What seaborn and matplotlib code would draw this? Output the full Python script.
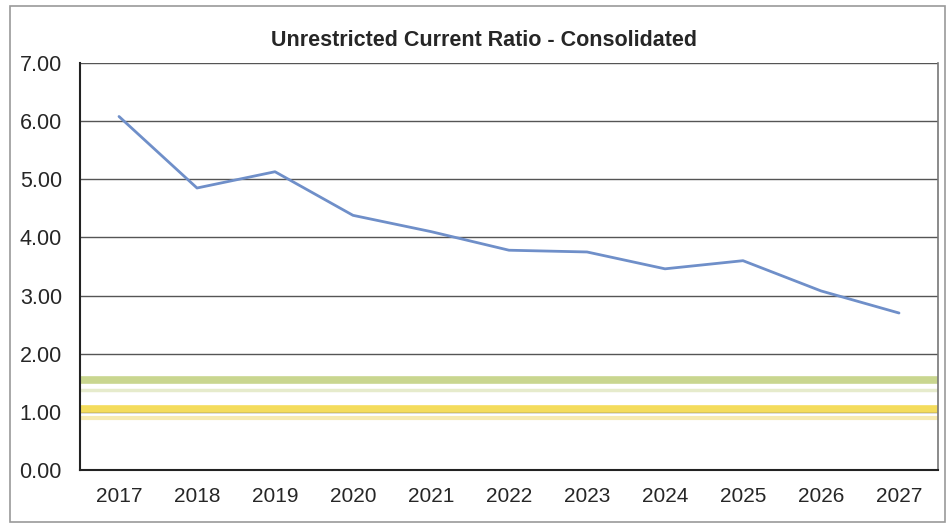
import numpy as np
import pandas as pd
import matplotlib
matplotlib.use('Agg')
import matplotlib.pyplot as plt
import seaborn as sns

# Data
years = ['2017', '2018', '2019', '2020', '2021', '2022', '2023', '2024', '2025', '2026', '2027']
ratio = [6.08, 4.85, 5.13, 4.38, 4.10, 3.78, 3.75, 3.46, 3.60, 3.08, 2.70]

# Reference bands (targets)
band_levels = [1.55, 1.38, 1.05, 0.90]
band_colors = ['#c9d68f', '#e6ebcc', '#f4dc5c', '#f6eab2']
band_widths = [5.5, 2.5, 5.5, 3.0]

sns.set_style('white')
plt.rcParams['font.family'] = ['Liberation Sans', 'DejaVu Sans']

df = pd.DataFrame({'pos': np.arange(len(years)), 'ratio': ratio})

fig = plt.figure(figsize=(9.5, 5.28), dpi=100)
ax = fig.add_axes([80 / 950, 1 - 470 / 528, (938 - 80) / 950, (470 - 63) / 528])

# Outer frame
fig.patches.append(plt.Rectangle((10 / 950, 6 / 528), 935 / 950, 516 / 528,
                                 transform=fig.transFigure, fill=False,
                                 edgecolor='#9a9a9a', linewidth=1.2))

for lvl, c, w in zip(band_levels, band_colors, band_widths):
    ax.axhline(lvl, color=c, linewidth=w, zorder=1)

sns.lineplot(data=df, x='pos', y='ratio', ax=ax, color='#6f8fc9', linewidth=2.0, zorder=3)

ax.set_ylim(0, 7)
ax.set_yticks(np.arange(0, 8, 1))
ax.set_yticklabels([f'{v:.2f}' for v in range(8)], fontsize=15.5)
ax.set_xlim(-0.5, len(years) - 0.5)
ax.set_xticks(df['pos'])
ax.set_xticklabels(years, fontsize=15)
ax.set_xticks(np.arange(-0.5, len(years), 1), minor=True)
ax.tick_params(axis='x', which='major', length=0, pad=12)
ax.tick_params(axis='x', which='minor', length=5, color='#555555')
ax.tick_params(axis='y', length=5, color='#555555', pad=8)
ax.set_xlabel('')
ax.set_ylabel('')

ax.grid(axis='y', color='#555555', linewidth=1.0, zorder=0)
ax.set_axisbelow(True)
for side in ['left', 'bottom']:
    ax.spines[side].set_color('#222222')
    ax.spines[side].set_linewidth(1.5)
ax.spines['top'].set_visible(False)
ax.spines['right'].set_color('#777777')
ax.spines['right'].set_linewidth(1.2)

fig.text(484 / 950, 1 - 40 / 528, 'Unrestricted Current Ratio - Consolidated',
         ha='center', va='center', fontsize=15.5, fontweight='bold')

fig.savefig('out.png', dpi=100)
